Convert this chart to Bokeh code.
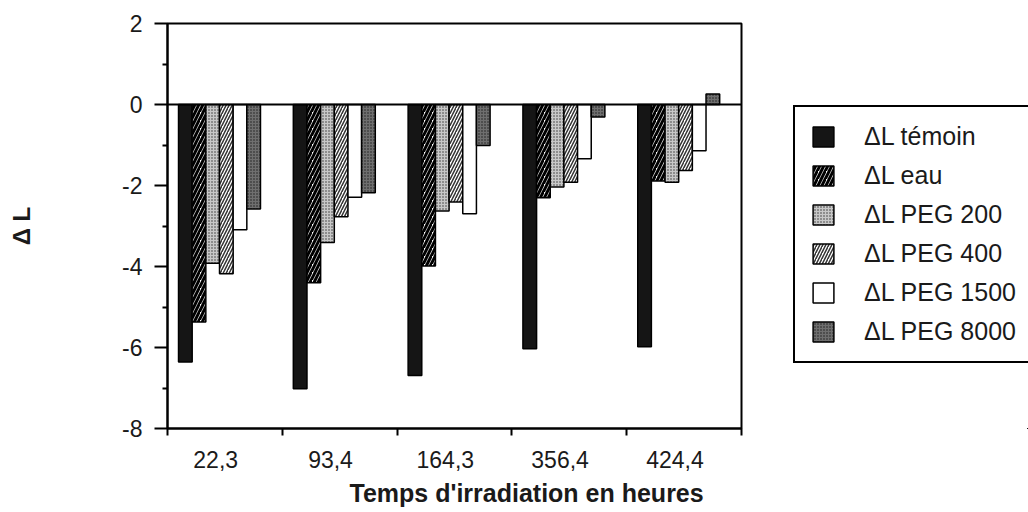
import numpy as np
from bokeh.plotting import figure
from bokeh.layouts import row
from bokeh.models import Range1d, FixedTicker, Legend, LegendItem, Span, Title
from bokeh.embed import file_html
from bokeh.resources import INLINE

# ---- data ----
categories = ["22,3", "93,4", "164,3", "356,4", "424,4"]
series_names = ["ΔL témoin", "ΔL eau", "ΔL PEG 200", "ΔL PEG 400", "ΔL PEG 1500", "ΔL PEG 8000"]
temoin = [-6.36, -7.02, -6.69, -6.03, -5.98]
eau = [-5.37, -4.40, -3.99, -2.30, -1.89]
peg200 = [-3.92, -3.41, -2.63, -2.04, -1.92]
peg400 = [-4.18, -2.77, -2.41, -1.92, -1.63]
peg1500 = [-3.09, -2.29, -2.70, -1.34, -1.14]
peg8000 = [-2.58, -2.18, -1.01, -0.31, 0.26]
y_ticks = [-8, -6, -4, -2, 0, 2]
y_tick_labels = ["-8", "-6", "-4", "-2", "0", "2"]
y_minor = [-7, -5, -3, -1, 1]
x_title = "Temps d'irradiation en heures"
y_title = "Δ L"

series = [temoin, eau, peg200, peg400, peg1500, peg8000]

# ---- styles ----
styles = [
    dict(fill_color="#151515"),
    dict(fill_color="white", hatch_pattern="right_diagonal_line", hatch_color="black", hatch_weight=3.0, hatch_scale=8),
    dict(fill_color="#c8c8c8", hatch_pattern="dot", hatch_color="#333333", hatch_weight=1, hatch_scale=3),
    dict(fill_color="white", hatch_pattern="right_diagonal_line", hatch_color="#333333", hatch_weight=1.5, hatch_scale=6),
    dict(fill_color="white"),
    dict(fill_color="#6f6f6f", hatch_pattern="dot", hatch_color="#1a1a1a", hatch_weight=1.2, hatch_scale=3),
]

FONT = "Liberation Sans"
TXT = "#1a1a1a"
n_cat = len(categories)
bar_w = 0.119
first_off = -0.3445
label_shift = -0.08

P_W = 744
H = 512
p = figure(width=P_W, height=H,
           x_range=Range1d(0, n_cat), y_range=Range1d(min(y_ticks), max(y_ticks)),
           output_backend="svg", toolbar_location=None,
           min_border_left=167, min_border_right=3, min_border_top=23, min_border_bottom=84)
p.xgrid.visible = False
p.ygrid.visible = False
p.outline_line_color = "black"
p.outline_line_width = 2
p.background_fill_color = "white"
p.border_fill_color = "white"

centers = np.arange(n_cat) + 0.5
bar_x = [centers + first_off + bar_w * i for i in range(len(series))]
for xs, vals, st in zip(bar_x, series, styles):
    p.vbar(x=xs, top=vals, bottom=0, width=bar_w, line_color="black", line_width=1.5, **st)

p.add_layout(Span(location=0, dimension="width", line_color="black", line_width=2))

# x axis: labels slightly left of the group centres, ticks at group boundaries
label_pos = [round(float(c + label_shift), 3) for c in centers]
p.xaxis.ticker = FixedTicker(ticks=label_pos, minor_ticks=list(range(n_cat + 1)))
p.xaxis.major_label_overrides = {pos: cat for pos, cat in zip(label_pos, categories)}
p.xaxis.major_tick_out = 0
p.xaxis.major_tick_in = 0
p.xaxis.minor_tick_out = 7
p.xaxis.minor_tick_in = 0
p.xaxis.minor_tick_line_width = 2
p.xaxis.minor_tick_line_color = "black"
p.xaxis.axis_line_width = 2
p.xaxis.axis_line_color = "black"
p.xaxis.major_label_standoff = 15
p.xaxis.major_label_text_font = FONT
p.xaxis.major_label_text_font_size = "23px"
p.xaxis.major_label_text_color = TXT

# y axis
p.yaxis.ticker = FixedTicker(ticks=y_ticks, minor_ticks=y_minor)
p.yaxis.major_label_overrides = {t: s for t, s in zip(y_ticks, y_tick_labels)}
p.yaxis.major_tick_out = 13
p.yaxis.major_tick_in = 0
p.yaxis.minor_tick_out = 5
p.yaxis.minor_tick_in = 0
p.yaxis.major_tick_line_width = 2
p.yaxis.minor_tick_line_width = 2
p.yaxis.major_tick_line_color = "black"
p.yaxis.minor_tick_line_color = "black"
p.yaxis.axis_line_width = 2
p.yaxis.axis_line_color = "black"
p.yaxis.major_label_standoff = 12
p.yaxis.major_label_text_font = FONT
p.yaxis.major_label_text_font_size = "23px"
p.yaxis.major_label_text_color = TXT
p.yaxis.axis_label = y_title
p.yaxis.axis_label_text_font = FONT
p.yaxis.axis_label_text_font_style = "bold"
p.yaxis.axis_label_text_font_size = "24px"
p.yaxis.axis_label_text_color = TXT
p.yaxis.axis_label_standoff = 84

# x axis title, shifted right as in the reference
p.add_layout(Title(text=x_title, align="left", offset=182, standoff=12,
                   text_font=FONT, text_font_style="bold", text_font_size="25px",
                   text_color=TXT), "below")

# ---- legend panel (its own canvas so the box can sit beside the frame) ----
# the same series are drawn here far outside the visible range, only to key the legend
q = figure(width=1028 - P_W, height=H, x_range=Range1d(-300, -299), y_range=Range1d(300, 301),
           x_axis_type=None, y_axis_type=None,
           output_backend="svg", toolbar_location=None,
           min_border_left=0, min_border_right=0, min_border_top=0, min_border_bottom=0)
q.outline_line_color = None
q.grid.visible = False
q.background_fill_color = "white"
q.border_fill_color = "white"

items = []
for name, xs, vals, st in zip(series_names, bar_x, series, styles):
    r = q.vbar(x=xs, top=vals, bottom=0, width=bar_w, line_color="black", line_width=1.5, **st)
    items.append(LegendItem(label=name, renderers=[r]))

legend = Legend(items=items, location=(49, 65), margin=0, padding=15, spacing=10,
                glyph_width=26, glyph_height=25, label_height=25, label_standoff=28,
                label_width=170,
                label_text_font=FONT, label_text_font_size="25px", label_text_color=TXT,
                border_line_color="black", border_line_width=2, border_line_alpha=1.0,
                background_fill_color="white", background_fill_alpha=1.0)
q.add_layout(legend, "center")

layout = row(p, q, spacing=0)
open("out.html", "w").write(file_html(layout, INLINE))
